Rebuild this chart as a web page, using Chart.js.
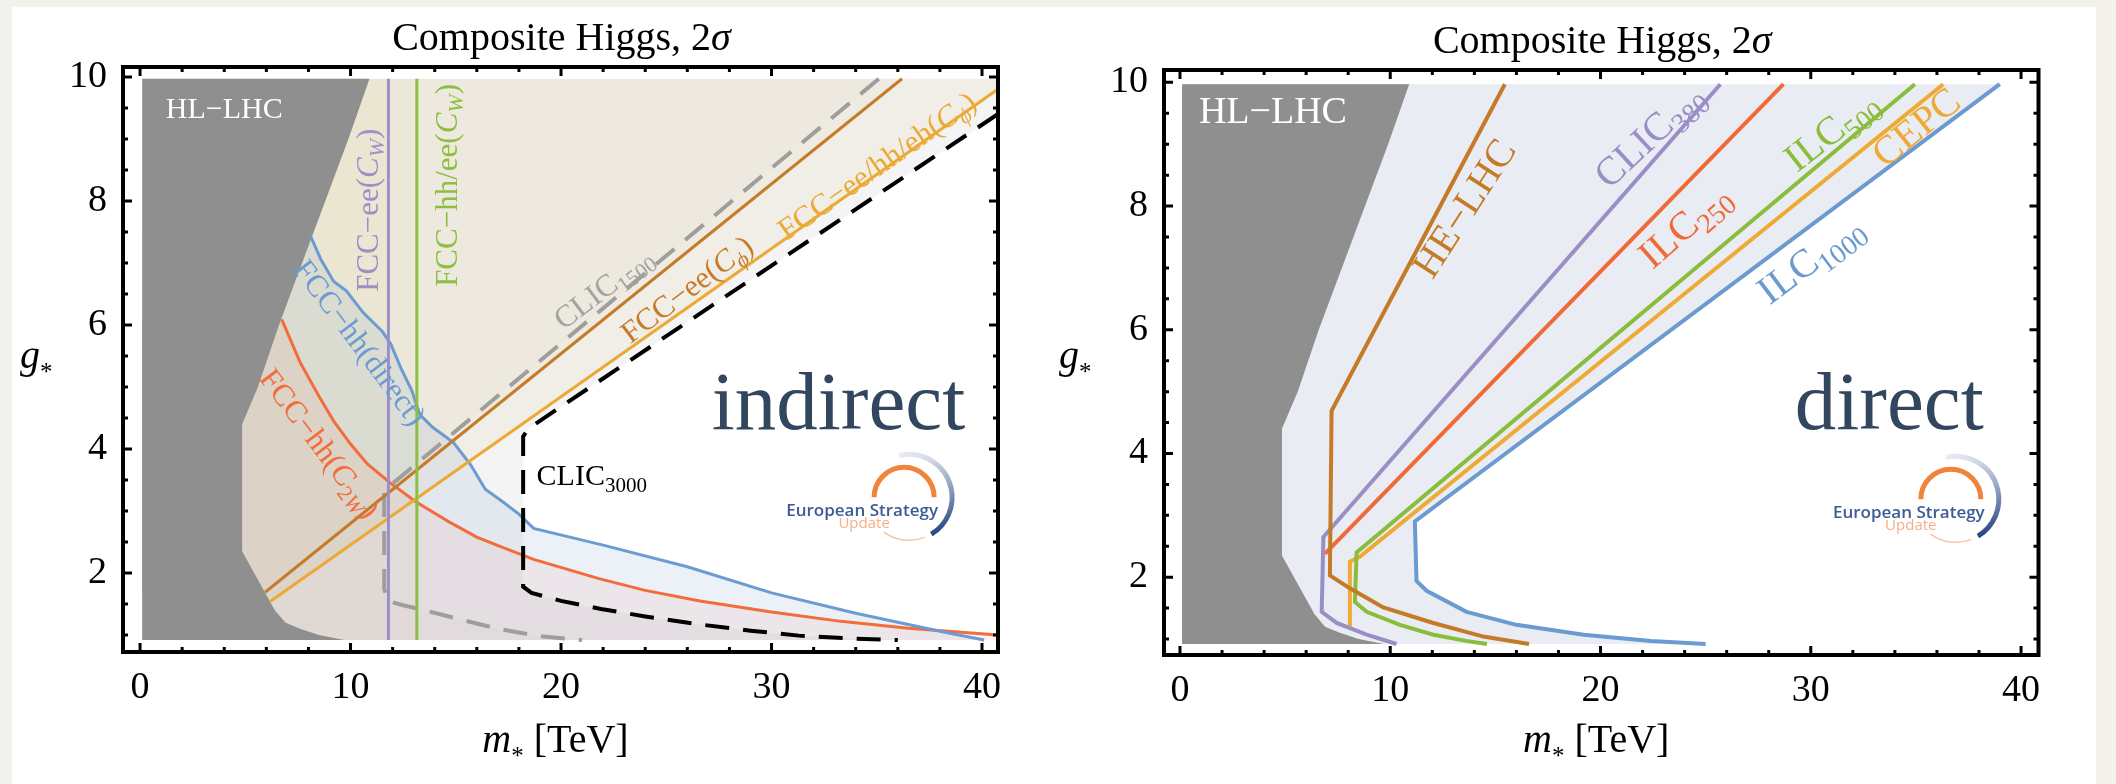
<!DOCTYPE html>
<html>
<head>
<meta charset="utf-8">
<script src="https://cdn.jsdelivr.net/npm/chart.js@4.4.1/dist/chart.umd.min.js"></script>
<style>
html, body { margin: 0; padding: 0; background: #f3f1ec; width: 2116px; height: 784px; overflow: hidden; }
#sheet { position: absolute; left: 12px; top: 7px; width: 2084px; height: 777px; background: #fff; }
#cLeft { position: absolute; left: 0; top: 0; }
#cRight { position: absolute; left: 1058px; top: 0; }
</style>
</head>
<body>
<div id="sheet"></div>
<canvas id="cLeft" width="1058" height="784"></canvas>
<canvas id="cRight" width="1058" height="784"></canvas>
<script>
// graduations
let xMajor = [0, 10, 20, 30, 40];
let xMinor = [2, 4, 6, 8, 12, 14, 16, 18, 22, 24, 26, 28, 32, 34, 36, 38];
let yMajor = [2, 4, 6, 8, 10];
let yMinor = [1, 1.5, 2.5, 3, 3.5, 4.5, 5, 5.5, 6.5, 7, 7.5, 8.5, 9, 9.5];

// bords de la zone de données (m*, g*)
let mLeft = 0.1, gBottom = 0.92, gTop = 9.97, mRightL = 40.75;

// zone HL-LHC (identique dans les deux graphiques)
let hlLhc = [[0.1, 9.97], [10.9, 9.97], [9.9, 9.0], [8.8, 8.0], [7.7, 7.0], [6.6, 6.0], [5.6, 5.0], [4.85, 4.4],
             [4.85, 2.35], [6.4, 1.4], [6.9, 1.2], [7.6, 1.1], [8.5, 1.0], [9.7, 0.92], [0.1, 0.92]];

// graphique de gauche : indirect
let fccEeCw = [[11.8, 0.92], [11.8, 9.97]];
let fccHhEeCw = [[13.15, 0.92], [13.15, 9.97]];
let fccHhDirect = [[8.08, 7.45], [8.6, 7.05], [9.2, 6.7], [9.8, 6.55], [10.6, 6.2], [11.5, 5.9], [11.9, 5.7], [12.4, 5.3],
                   [12.9, 4.95], [13.3, 4.55], [13.9, 4.35], [14.5, 4.2], [14.9, 4.1], [15.7, 3.75], [16.4, 3.35],
                   [17.1, 3.18], [18.0, 2.95], [18.7, 2.72], [22, 2.45], [26, 2.1], [30, 1.68], [34, 1.35], [38, 1.06], [40.1, 0.92]];
let fccHhC2w = [[6.73, 6.09], [7.6, 5.4], [8.5, 4.85], [9.2, 4.45], [10, 4.08], [10.8, 3.76], [11.9, 3.45], [13.1, 3.15],
                [14.7, 2.82], [16, 2.58], [17.1, 2.43], [18.7, 2.22], [21.8, 1.91], [24, 1.72], [26.6, 1.55], [30, 1.37],
                [33.3, 1.22], [36.5, 1.11], [40.75, 1.0]];
let fccEeCphi = [[5.94, 1.69], [36.2, 9.97]];
let fccAllCphi = [[6.18, 1.54], [40.75, 9.8]];
let clic1500 = [[35.1, 9.97], [11.6, 3.33], [11.6, 1.75], [11.75, 1.55], [12.5, 1.48], [13.5, 1.4], [15, 1.27],
                [17, 1.1], [19, 0.98], [21, 0.92]];
let clic3000 = [[40.75, 9.4], [18.45, 4.33], [18.2, 4.2], [18.2, 1.78], [18.6, 1.68], [20, 1.55], [21.9, 1.42],
                [24, 1.3], [26.6, 1.17], [29, 1.07], [31.3, 0.99], [34, 0.94], [36, 0.92]];

// graphique de droite : direct
let heLhc = [[15.45, 9.97], [7.21, 4.69], [7.13, 2.03], [8.08, 1.82], [9.67, 1.51], [12.05, 1.26], [14.43, 1.04], [16.6, 0.92]];
let clic380 = [[25.7, 9.97], [6.82, 2.65], [6.74, 1.44], [7.45, 1.26], [8.88, 1.07], [10.3, 0.92]];
let ilc250 = [[28.7, 9.97], [6.9, 2.38]];
let ilc500 = [[34.95, 9.97], [8.4, 2.4], [8.32, 1.6], [8.88, 1.44], [10.46, 1.23], [12.05, 1.07], [13.6, 0.97], [14.6, 0.92]];
let cepc = [[36.3, 9.97], [8.55, 2.33], [8.08, 2.25], [8.08, 1.2]];
let ilc1000 = [[38.99, 9.97], [11.17, 2.9], [11.25, 1.94], [11.73, 1.78], [13.63, 1.44], [16.0, 1.23], [19.2, 1.07],
               [22.4, 0.97], [25.0, 0.92]];

const serif = 'Liberation Serif, Times New Roman, serif';
Chart.defaults.font.family = serif;

function pts(arr) {
    return arr.map(function(p) { return {x: p[0], y: p[1]}; });
}

function lineSet(data, color, width, dash, order) {
    return {
        data: pts(data), borderColor: color, borderWidth: width, borderDash: dash || [],
        pointRadius: 0, fill: false, tension: 0, order: order, borderCapStyle: 'butt'
    };
}

function areaSet(data, color, order) {
    return {
        data: pts(data), borderColor: 'rgba(0,0,0,0)', borderWidth: 0, backgroundColor: color,
        pointRadius: 0, fill: 'shape', tension: 0, order: order
    };
}

// styles : i = italique, s = indice, a = astérisque abaissé
function fontFor(st, size) {
    let sz = size;
    if (st.indexOf('a') >= 0) sz = Math.round(size * 0.62);
    else if (st.indexOf('s') >= 0) sz = Math.round(size * 0.7);
    return (st.indexOf('i') >= 0 ? 'italic ' : '') + sz + 'px ' + serif;
}

// texte enrichi ; si base est vrai, py est la ligne de base
function drawRich(ctx, segs, px, py, size, color, rot, align, base) {
    ctx.save();
    ctx.translate(px, py);
    ctx.rotate((rot || 0) * Math.PI / 180);
    ctx.fillStyle = color;
    ctx.textBaseline = 'alphabetic';
    ctx.textAlign = 'left';
    let w = 0;
    segs.forEach(function(s) { ctx.font = fontFor(s[1], size); w += ctx.measureText(s[0]).width; });
    let x0 = align === 'left' ? 0 : -w / 2;
    let y0 = base ? 0 : size * 0.33;
    segs.forEach(function(s) {
        ctx.font = fontFor(s[1], size);
        let dy = 0;
        if (s[1].indexOf('a') >= 0) dy = size * 0.3;
        else if (s[1].indexOf('s') >= 0) dy = size * 0.22;
        ctx.fillText(s[0], x0, y0 + dy);
        x0 += ctx.measureText(s[0]).width;
    });
    ctx.restore();
}

function drawLogo(ctx, cx, cy) {
    ctx.save();
    let grad = ctx.createLinearGradient(cx - 10, cy - 45, cx + 25, cy + 40);
    grad.addColorStop(0, 'rgba(205,212,228,0.4)');
    grad.addColorStop(1, '#24447f');
    ctx.strokeStyle = grad;
    ctx.lineWidth = 5;
    ctx.beginPath();
    ctx.arc(cx + 5, cy, 43, -1.8, 1.03);
    ctx.stroke();
    ctx.strokeStyle = '#f0843a';
    ctx.lineWidth = 5;
    ctx.beginPath();
    ctx.arc(cx, cy, 30, Math.PI, 0);
    ctx.stroke();
    ctx.strokeStyle = 'rgba(246,170,130,0.7)';
    ctx.lineWidth = 1.5;
    ctx.beginPath();
    ctx.arc(cx + 5, cy, 43, 1.2, 2.2);
    ctx.stroke();
    ctx.textAlign = 'center';
    ctx.textBaseline = 'alphabetic';
    ctx.font = '600 17px "Open Sans", sans-serif';
    ctx.fillStyle = '#3e5a96';
    ctx.fillText('European Strategy', cx - 42, cy + 19);
    ctx.font = '15px "Open Sans", sans-serif';
    ctx.fillStyle = '#f5ae88';
    ctx.fillText('Update', cx - 40, cy + 31);
    ctx.restore();
}

function makeDeco(cfg) {
    return {
        id: 'deco',
        afterDatasetsDraw: function(chart) {
            let ctx = chart.ctx, xs = chart.scales.x, ys = chart.scales.y, a = chart.chartArea;
            cfg.labels.forEach(function(l) {
                drawRich(ctx, l.t, xs.getPixelForValue(l.at[0]), ys.getPixelForValue(l.at[1]),
                         l.size, l.color, l.rot, l.align, false);
            });
            ctx.save();
            ctx.font = '83px ' + serif;
            ctx.fillStyle = '#33465f';
            ctx.textAlign = 'left';
            ctx.textBaseline = 'alphabetic';
            ctx.fillText(cfg.word, xs.getPixelForValue(cfg.wordAt[0]), ys.getPixelForValue(cfg.wordAt[1]));
            ctx.restore();
            drawLogo(ctx, xs.getPixelForValue(cfg.logoAt[0]), ys.getPixelForValue(cfg.logoAt[1]));

            // cadre et graduations intérieures
            ctx.save();
            ctx.strokeStyle = '#000';
            ctx.lineWidth = 3;
            ctx.beginPath();
            function tx(v, len) {
                let p = xs.getPixelForValue(v);
                ctx.moveTo(p, a.bottom); ctx.lineTo(p, a.bottom - len);
                ctx.moveTo(p, a.top); ctx.lineTo(p, a.top + len);
            }
            function ty(v, len) {
                let p = ys.getPixelForValue(v);
                ctx.moveTo(a.left, p); ctx.lineTo(a.left + len, p);
                ctx.moveTo(a.right, p); ctx.lineTo(a.right - len, p);
            }
            xMajor.forEach(function(v) { tx(v, 9); });
            xMinor.forEach(function(v) { tx(v, 5); });
            yMajor.forEach(function(v) { ty(v, 9); });
            yMinor.forEach(function(v) { ty(v, 5); });
            ctx.stroke();
            ctx.lineWidth = 4;
            ctx.strokeRect(a.left, a.top, a.right - a.left, a.bottom - a.top);
            ctx.restore();

            // titres
            let cx = (a.left + a.right) / 2;
            drawRich(ctx, [['Composite Higgs, 2', ''], ['\u03c3', 'i']], cx + 1, a.top - 17, 40, '#000', 0, 'center', true);
            drawRich(ctx, [['m', 'i'], ['*', 'a'], [' [TeV]', '']], cx - 5, 752, 40, '#000', 0, 'center', true);
            drawRich(ctx, [['g', 'i'], ['*', 'a']], cfg.gx, 368, 40, '#000', 0, 'left', true);
        }
    };
}

function makeChart(canvasId, datasets, geo, deco) {
    let ctx = document.getElementById(canvasId).getContext('2d');
    return new Chart(ctx, {
        type: 'line',
        data: { datasets: datasets },
        options: {
            responsive: false,
            animation: false,
            events: [],
            layout: { padding: { left: 0, top: geo.top, right: geo.right, bottom: 0 } },
            plugins: {
                legend: { display: false },
                tooltip: { enabled: false },
                title: { display: false },
                filler: { propagate: false }
            },
            scales: {
                x: {
                    type: 'linear', min: geo.xMin, max: geo.xMax,
                    grid: { display: false }, border: { display: false },
                    afterFit: function(s) { s.height = geo.xh; },
                    afterBuildTicks: function(s) { s.ticks = xMajor.map(function(v) { return {value: v}; }); },
                    ticks: { font: { family: 'Liberation Serif', size: 38 }, color: '#000', padding: 5, maxRotation: 0, autoSkip: false }
                },
                y: {
                    type: 'linear', min: geo.yMin, max: geo.yMax,
                    grid: { display: false }, border: { display: false },
                    afterFit: function(s) { s.width = geo.yw; },
                    afterBuildTicks: function(s) { s.ticks = yMajor.map(function(v) { return {value: v}; }); },
                    ticks: { font: { family: 'Liberation Serif', size: 38 }, color: '#000', padding: 8, autoSkip: false }
                }
            }
        },
        plugins: [deco]
    });
}

// ---- graphique de gauche ----
let regClic3000 = [[mLeft, gBottom], [mLeft, gTop], [mRightL, gTop]].concat(clic3000);
let regClic1500 = [[mLeft, gBottom], [mLeft, gTop]].concat(clic1500);
let regCphi = fccEeCphi.concat([[mLeft, gTop], [mLeft, fccEeCphi[0][1]]]);
let regCphiAll = fccAllCphi.concat([[mRightL, gTop], [mLeft, gTop], [mLeft, fccAllCphi[0][1]]]);
let regCwEe = [[mLeft, gBottom], [fccEeCw[0][0], gBottom], [fccEeCw[0][0], gTop], [mLeft, gTop]];
let regCwHh = [[mLeft, gBottom], [fccHhEeCw[0][0], gBottom], [fccHhEeCw[0][0], gTop], [mLeft, gTop]];
let regDirect = fccHhDirect.concat([[mLeft, gBottom], [mLeft, fccHhDirect[0][1]]]);
let regC2w = fccHhC2w.concat([[mRightL, gBottom], [mLeft, gBottom], [mLeft, fccHhC2w[0][1]]]);

let leftSets = [
    areaSet(regClic3000, 'rgba(0,0,0,0.045)', 30),
    areaSet(regClic1500, 'rgba(120,100,60,0.015)', 29),
    areaSet(regCphi, 'rgba(190,140,60,0.035)', 28),
    areaSet(regCphiAll, 'rgba(200,150,60,0.07)', 27),
    areaSet(regCwEe, 'rgba(220,210,100,0.06)', 26),
    areaSet(regCwHh, 'rgba(170,200,100,0.04)', 25),
    areaSet(regDirect, 'rgba(100,140,200,0.12)', 24),
    areaSet(regC2w, 'rgba(240,120,100,0.1)', 23),
    areaSet(hlLhc, '#8f8f8f', 20),
    lineSet(fccHhC2w, '#f26c3c', 3, null, 9),
    lineSet(fccHhDirect, '#6c9bd1', 3, null, 8),
    lineSet(clic1500, '#9e9e9e', 4, [24, 14], 7),
    lineSet(clic3000, '#000000', 4, [24, 14], 6),
    lineSet(fccEeCphi, '#c57c2a', 3, null, 5),
    lineSet(fccAllCphi, '#ebaa35', 3, null, 4),
    lineSet(fccEeCw, '#9c8fc8', 3, null, 3),
    lineSet(fccHhEeCw, '#8dbf41', 3, null, 2)
];

let leftLabels = [
    { t: [['HL\u2212LHC', '']], at: [4.0, 9.5], size: 30, color: '#ffffff', rot: 0 },
    { t: [['FCC\u2212ee(', ''], ['C', 'i'], ['W', 'si'], [')', '']], at: [10.8, 7.85], size: 31, color: '#9d90c9', rot: -90 },
    { t: [['FCC\u2212hh/ee(', ''], ['C', 'i'], ['W', 'si'], [')', '']], at: [14.55, 8.25], size: 31, color: '#8dbf41', rot: -90 },
    { t: [['FCC\u2212hh(direct)', '']], at: [10.45, 5.72], size: 31, color: '#6c9bd1', rot: 53 },
    { t: [['FCC\u2212hh(', ''], ['C', 'i'], ['2', 's'], ['W', 'si'], [')', '']], at: [8.55, 4.09], size: 31, color: '#f26c3c', rot: 53 },
    { t: [['CLIC', ''], ['1500', 's']], at: [22.0, 6.6], size: 31, color: '#a3a3a3', rot: -37 },
    { t: [['FCC\u2212ee(', ''], ['C', 'i'], ['\u03d5', 'si'], [')', '']], at: [25.97, 6.58], size: 31, color: '#c57c2a', rot: -37 },
    { t: [['FCC\u2212ee/hh/eh(', ''], ['C', 'i'], ['\u03d5', 'si'], [')', '']], at: [35.0, 8.57], size: 31, color: '#ebaa35', rot: -35 },
    { t: [['CLIC', ''], ['3000', 's']], at: [18.84, 3.58], size: 30, color: '#000000', rot: 0, align: 'left' }
];

makeChart('cLeft', leftSets,
    { top: 67, right: 60, xh: 132, yw: 123, xMin: -0.81, xMax: 40.76, yMin: 0.726, yMax: 10.16 },
    makeDeco({ labels: leftLabels, word: 'indirect', wordAt: [27.16, 4.32], logoAt: [36.3, 3.22], gx: 20 }));

// ---- graphique de droite ----
let regReach = [[mLeft, gTop]].concat(ilc1000).concat([[mLeft, gBottom]]);

let rightSets = [
    areaSet(regReach, '#e9edf3', 30),
    areaSet(hlLhc, '#8f8f8f', 20),
    lineSet(ilc1000, '#6b9ad0', 4, null, 9),
    lineSet(cepc, '#eeaa34', 4, null, 8),
    lineSet(ilc500, '#8bbd3d', 4, null, 7),
    lineSet(ilc250, '#f06a38', 4, null, 6),
    lineSet(clic380, '#9b8ec6', 4, null, 5),
    lineSet(heLhc, '#c47a27', 4, null, 4)
];

let rightLabels = [
    { t: [['HL\u2212LHC', '']], at: [4.42, 9.54], size: 38, color: '#ffffff', rot: 0 },
    { t: [['HE\u2212LHC', '']], at: [13.5, 7.97], size: 40, color: '#c47a27', rot: -57 },
    { t: [['CLIC', ''], ['380', 's']], at: [22.3, 9.15], size: 40, color: '#9b8ec6', rot: -43 },
    { t: [['ILC', ''], ['250', 's']], at: [23.97, 7.69], size: 40, color: '#f06a38', rot: -41 },
    { t: [['ILC', ''], ['500', 's']], at: [30.95, 9.23], size: 40, color: '#8bbd3d', rot: -38 },
    { t: [['CEPC', '']], at: [35.0, 9.28], size: 40, color: '#eeaa34', rot: -39 },
    { t: [['ILC', ''], ['1000', 's']], at: [29.96, 7.15], size: 40, color: '#6b9ad0', rot: -37 }
];

makeChart('cRight', rightSets,
    { top: 70, right: 77.5, xh: 129, yw: 106, xMin: -0.76, xMax: 40.83, yMin: 0.742, yMax: 10.2 },
    makeDeco({ labels: rightLabels, word: 'direct', wordAt: [29.24, 4.4], logoAt: [36.66, 3.26], gx: 1 }));
</script>
</body>
</html>
